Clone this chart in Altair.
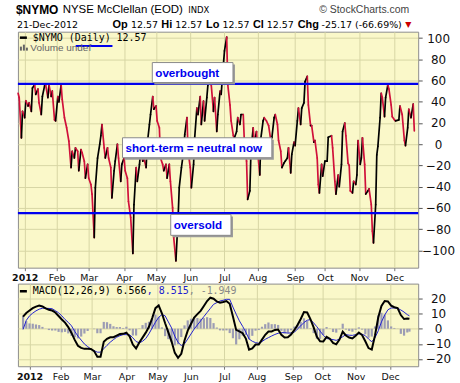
import altair as alt
import numpy as np
import pandas as pd

# ---------------- data ----------------
# day offsets from 2012-01-01 and $NYMO closes
NYMO_DAY = [-4, -3, -1, 0, 2, 3, 5, 6, 8, 9,
            11, 12, 14, 15, 17, 18, 20, 21, 23, 24,
            26, 27, 29, 30, 32, 33, 35, 36, 38, 40,
            42, 44, 45, 47, 48, 50, 51, 53, 54, 56,
            57, 59, 60, 62, 63, 65, 66, 68, 70, 71,
            72, 74, 75, 77, 78, 80, 81, 83, 84, 86,
            87, 89, 90, 92, 93, 95, 96, 98, 100, 101,
            103, 104, 106, 107, 109, 110, 112, 113, 115, 116,
            118, 119, 121, 122, 124, 125, 127, 128, 130, 131,
            133, 134, 136, 137, 139, 141, 142, 144, 146, 147,
            149, 150, 152, 153, 155, 156, 158, 159, 161, 162,
            164, 165, 167, 168, 170, 171, 173, 174, 176, 177,
            179, 180, 182, 183, 185, 186, 188, 189, 191, 192,
            194, 195, 197, 198, 200, 201, 203, 204, 206, 207,
            209, 210, 212, 213, 215, 216, 218, 219, 221, 223,
            225, 226, 228, 229, 231, 232, 234, 235, 237, 238,
            240, 241, 243, 244, 246, 247, 249, 250, 252, 253,
            255, 256, 258, 259, 261, 262, 264, 265, 267, 268,
            269, 271, 272, 274, 276, 277, 280, 281, 283, 284,
            286, 287, 289, 290, 292, 293, 295, 296, 297, 299,
            300, 302, 303, 304, 306, 307, 308, 310, 311, 313,
            314, 316, 317, 318, 320, 321, 322, 324, 325, 326,
            328, 329, 331, 332, 334, 335, 337, 338, 341, 342,
            344, 346, 347, 349, 350, 352, 354, 355]
NYMO = [48, 44, 6, 31, 25, 41, 36, 39, 31, 53,
        56, 47, 52, 39, 28, 45, 55, 56, 44, 56,
        45, 50, 23, 22, 45, 40, 56, 42, 25, 15.5,
        3, -22, -6.6, -13, -3.5, -6.6, -25, -5, -8, -16,
        -32, -19, -32, -38, -47, -88, -41, -13, 0, 8,
        18.6, -3.5, -13, -3.5, -13, -22, -50.6, -25, -16, 0,
        -13, -35, -19, -13, -25, -32, -54, -69, -103, -57,
        -22, -35, -19, -6.6, -16, -13, -22, 0, 18.6, 28,
        45, 33, 36, 22, 15.5, -13, -19, -25, -19, -32,
        -19, -35, -60, -88, -110, -69, -41, -22, -6.6, 9,
        25, -6.6, -22, -41, -19, 6, 34, 28, 45, 18.6,
        40.6, 22, 44, 56, 69, 56, 31, 44, 12, 28,
        50, 47, 75, 88, 101, 56, 37, 22, 8, 6,
        12, 25, 18.6, 28, 28, 3, -16, -52, -44, -6.6,
        15.5, 0, 12, -6.6, -29, 6, 22, 25, 22, 17.6,
        3.5, 6.6, 25, 28, 18.6, 3.5, -6.6, -22, -17.6, -16,
        -13, -3.5, -27, -9.6, 1.9, -1.3, 22, 34, 18.6, 34,
        39, 59, 64, 37, 17.6, 17.6, 1.9, 3.5, -13, -38,
        -46, -19, -30, -16, -16, 6.6, 8, -3.5, -35, -47,
        -29, -40, -19, 12, 20, 8, -18, -20, -44, -46,
        -35, -38, -29, 3.5, -19, -13, 6, -19, -47, -44,
        -42, -57, -82, -93, -57, -10, -2, 25, 48, 44,
        26, 44, 56, 52, 37, 26, 23, 22, 23, 36,
        28, 3.5, -1.3, 15.5, 33, 25, 37.74, 12.57]

MACD_DAY = list(range(-4, 354, 3)) + [355]
MACD = [8, 10.4, 12, 13.6, 14.6, 15.3, 14.7, 13.4, 12.5, 12.0,
        10.7, 8.4, 6.1, 4.0, 1.1, -2.8, -7.4, -11.3, -12.7, -13.3,
        -13.3, -13.4, -14.8, -18.5, -18.5, -8.7, -6.7, -5.7, -5.6, -4.5,
        -3.5, -3.4, -2.6, -5.1, -10.5, -13, -9.1, -5.9, -2.6, 1.3,
        7, 13.6, 15.4, 10.2, 3.6, -2.4, -8.5, -16, -19.2, -16.6,
        -7.8, -1.3, 3.1, 7.4, 9.6, 11.8, 15, 18.3, 20.5, 19.8,
        18, 17.2, 17.6, 18.3, 16.5, 8, -0.8, -1.8, -3, -6.5,
        -13.8, -13, -10.5, -10.5, -7.2, -4, -1.8, -1.8, -0.8, -0.5,
        -4, -5.8, -5.6, -3.8, -1, 2.5, 6.4, 11, 10.7, 6.3,
        0.9, -5.4, -8.3, -8.5, -5.4, -6.6, -9.4, -10.3, -7.2, -2,
        -4.5, -5.8, -6.4, -4.6, -2.5, -4.2, -8.3, -12.8, -13.8, -4.5,
        7.4, 15, 18.3, 18, 15.2, 14.2, 13.6, 9, 6.4, 6.8,
        6.566]
SIGNAL = [-0.5, 5.5, 8.5, 10.3, 11.8, 12.9, 13.5, 13.5, 13.4, 13.2,
          11.9, 10.5, 8.5, 6.1, 4.2, 1.9, -1.8, -4.9, -7.5, -10.1,
          -11.8, -13.4, -14.5, -15.5, -15.5, -13.2, -11, -8.9, -7.2, -5.6,
          -4.6, -3.9, -3.9, -4, -6.0, -8.5, -9.3, -8.3, -6.5, -3.3,
          0.5, 4.3, 7.5, 9.3, 8.5, 4.5, 0.5, -5, -9, -11.1,
          -10, -6.8, -3.5, -0.2, 2.5, 5.2, 8, 10.7, 13.4, 16.1,
          17.2, 18.3, 18.8, 19.4, 19.4, 14.3, 9.6, 5.2, 1.6, -2.3,
          -6.8, -8.3, -9.2, -9.6, -8.5, -7.0, -5.9, -4.8, -3.8, -3.0,
          -2.6, -2.6, -2.9, -2.8, -2.4, -0.2, 1.9, 4.1, 5.6, 6.0,
          3.8, 1.3, -1.6, -4.3, -6.5, -6.8, -7.2, -7.7, -6.8, -5.3,
          -3.9, -4.3, -4.4, -3.9, -3.4, -3.6, -4.6, -6.8, -8.6, -6,
          -1.4, 4.5, 9, 12.5, 13.7, 13.7, 13.5, 12.4, 11, 9.3,
          8.515]

OVERBOUGHT, OVERSOLD = 57, -65
MONTH_TICKS = ["2012-01-03", "2012-02-01", "2012-03-01", "2012-04-02",
               "2012-05-01", "2012-06-01", "2012-07-02", "2012-08-01",
               "2012-09-04", "2012-10-01", "2012-11-01", "2012-12-03"]
TOP_TICKS = [-100, -80, -60, -40, -20, 0, 20, 40, 60, 80, 100]
MACD_TICKS = [-20, -10, 0, 10, 20]

# annotation boxes (day offset / value anchors)
ANN_TEXT = ["overbought", "short-term = neutral now", "oversold"]
ANN_X1 = [117.6, 90.6, 134.3]
ANN_X2 = [190.7, 225.9, 188.9]
ANN_Y1 = [77.0, 6.1, -66.2]
ANN_Y2 = [58.2, -12.7, -85.9]
ANN_TX = [120.3, 93.3, 137.0]
ANN_TY = [67.6, -3.3, -76.1]

assert len(NYMO_DAY) == len(NYMO)
assert len(MACD_DAY) == len(MACD) == len(SIGNAL)

# ---------------- helpers ----------------
BASE = pd.Timestamp("2012-01-01")


def ms(days):
    return [float((BASE + pd.Timedelta(days=float(d))).value // 10**6) for d in days]


X_DOMAIN = ms([-4.15, 358.5])
W, H_TOP, H_MACD = 402, 237, 83
PANEL = "#faf8c9"
GRID = "#d7d6a4"
RED = "#d0103a"
BLUE = "#0000ee"

tick_ms = [float(pd.Timestamp(s).value // 10**6) for s in MONTH_TICKS]


def x_axis():
    return alt.Axis(values=tick_ms, title=None, grid=True, gridColor=GRID,
                    domain=False, tickSize=3, tickColor="#777",
                    labelFont="DejaVu Sans", labelFontSize=9.5, labelColor="#111",
                    labelPadding=2, labelFlush=False, labelOverlap=False,
                    labelExpr="utcmonth(datum.value) === 0 ? '2012' : utcFormat(datum.value, '%b')",
                    labelFontWeight={"condition": {"test": "utcmonth(datum.value) === 0",
                                                   "value": "bold"}, "value": "normal"})


xs = alt.Scale(type="utc", domain=X_DOMAIN)


def X(field):
    return alt.X(field, type="temporal", scale=xs, axis=x_axis())


def y_axis(vals):
    return alt.Axis(values=vals, title=None, orient="right", grid=True, gridColor=GRID,
                    domain=False, tickSize=4, tickColor="#555",
                    labelFont="DejaVu Sans", labelFontSize=12, labelColor="#111",
                    labelAlign="center", labelPadding=16, labelBaseline="middle",
                    labelOverlap=False, labelFlush=False, labelBound=False)


ys_top = alt.Scale(domain=[-116.4, 106.1], nice=False, zero=False)
ys_m = alt.Scale(domain=[-24.8, 29.8], nice=False, zero=False)


def YT(field):
    return alt.Y(field, type="quantitative", scale=ys_top, axis=y_axis(TOP_TICKS))


def YM(field):
    return alt.Y(field, type="quantitative", scale=ys_m, axis=y_axis(MACD_TICKS))


one = pd.DataFrame({"k": [0]})


def label(text, x, y, size, font="DejaVu Sans", weight="normal", color="black", align="left"):
    return alt.Chart(one).mark_text(text=text, font=font, fontSize=size, fontWeight=weight,
                                    color=color, align=align, baseline="middle").encode(
        x=alt.value(x), y=alt.value(y))


# ---------------- top panel ----------------
t = ms(NYMO_DAY)
seg = pd.DataFrame({"t": t[:-1], "t2": t[1:], "v": NYMO[:-1], "v2": NYMO[1:]})
seg["dir"] = np.where(seg["v2"] < seg["v"], "down", "up")

segments = alt.Chart(seg).mark_rule(strokeWidth=1.7, strokeCap="round").encode(
    x=X("t"), x2="t2:T", y=YT("v"), y2="v2:Q",
    color=alt.Color("dir:N", scale=alt.Scale(domain=["down", "up"], range=[RED, "black"]),
                    legend=None))

levels = alt.Chart(pd.DataFrame({"lvl": [OVERBOUGHT, OVERSOLD]})).mark_rule(
    color=BLUE, strokeWidth=2.3).encode(y=YT("lvl"))

ann = pd.DataFrame({"txt": ANN_TEXT,
                    "x1": ms(ANN_X1), "x2": ms(ANN_X2),
                    "sx1": ms([a + 1.8 for a in ANN_X1]), "sx2": ms([a + 1.8 for a in ANN_X2]),
                    "y1": ANN_Y1, "y2": ANN_Y2,
                    "sy1": [a - 1.9 for a in ANN_Y1], "sy2": [a - 1.9 for a in ANN_Y2],
                    "tx": ms(ANN_TX), "ty": ANN_TY})

shadow = alt.Chart(ann).mark_rect(color="#9a9a9a").encode(
    x=X("sx1"), x2="sx2:T", y=YT("sy1"), y2="sy2:Q")
boxes = alt.Chart(ann).mark_rect(fill="white", stroke="#8a8a8a", strokeWidth=1).encode(
    x=X("x1"), x2="x2:T", y=YT("y1"), y2="y2:Q")
box_text = alt.Chart(ann).mark_text(font="Liberation Sans", fontSize=11.7, fontWeight="bold",
                                    color=BLUE, align="left", baseline="middle").encode(
    x=X("tx"), y=YT("ty"), text="txt:N")

underline = alt.Chart(pd.DataFrame({"a": ms([48.2]), "b": ms([81.5]), "y": [92.7]})).mark_rule(
    color=BLUE, strokeWidth=2).encode(x=X("a"), x2="b:T", y=YT("y"))

legend_top = [
    alt.Chart(one).mark_rule(color="black", strokeWidth=2.5).encode(
        x=alt.value(2), x2=alt.value(9), y=alt.value(6)),
    label("$NYMO (Daily) 12.57", 15, 6, 10, font="DejaVu Sans Mono"),
    alt.Chart(one).mark_rect(color="#666").encode(x=alt.value(2), x2=alt.value(4), y=alt.value(15), y2=alt.value(19)),
    alt.Chart(one).mark_rect(color="#666").encode(x=alt.value(5), x2=alt.value(7), y=alt.value(13), y2=alt.value(19)),
    alt.Chart(one).mark_rect(color="#666").encode(x=alt.value(8), x2=alt.value(10), y=alt.value(16), y2=alt.value(19)),
    label("Volume undef", 12.5, 16, 10, font="Liberation Sans", color="#666"),
]

BOLD = dict(font="Liberation Sans", weight="bold")
L1, L2 = -21.5, -7
header = [
    label("$NYMO", -2, L1, 12, **BOLD),
    label("NYSE McClellan (EOD)", 45, L1, 11.5, font="Liberation Sans"),
    label("INDX", 171, L1, 8.5),
    label("\u00a9 StockCharts.com", 393, L1, 10.5, font="Liberation Sans", color="#444", align="right"),
    label("21-Dec-2012", -1, L2, 9.5),
    label("Op", 95, L2, 11, **BOLD),
    label("12.57", 113.5, L2, 9.5),
    label("Hi", 144, L2, 11, **BOLD),
    label("12.57", 158, L2, 9.5),
    label("Lo", 189, L2, 11, **BOLD),
    label("12.57", 205.5, L2, 9.5),
    label("Cl", 236, L2, 11, **BOLD),
    label("12.57", 250, L2, 9.5),
    label("Chg", 281, L2, 11, **BOLD),
    label("-25.17 (-66.69%)", 305, L2, 9.5),
    label("\u25bc", 389, L2, 8, color="#cc0000"),
]

bound_top = alt.Chart(one).mark_rect(opacity=0).encode(
    x=alt.value(-17), x2=alt.value(443), y=alt.value(-30), y2=alt.value(-29))

top = alt.layer(segments, levels, shadow, boxes, box_text, underline,
                *legend_top, *header, bound_top).properties(width=W, height=H_TOP)

# ---------------- MACD panel ----------------
mdf = pd.DataFrame({"t": ms(MACD_DAY), "macd": MACD, "signal": SIGNAL})
mdf["hist"] = mdf["macd"] - mdf["signal"]

hist = alt.Chart(mdf).mark_bar(size=2.2, color="#9c9cb4").encode(x=X("t"), y=YM("hist"))
sig_line = alt.Chart(mdf).mark_line(color="#2020d0", strokeWidth=1).encode(x=X("t"), y=YM("signal"))
macd_line = alt.Chart(mdf).mark_line(color="black", strokeWidth=2).encode(x=X("t"), y=YM("macd"))

legend_m = [
    alt.Chart(one).mark_rule(color="black", strokeWidth=2.5).encode(
        x=alt.value(2), x2=alt.value(9), y=alt.value(7.7)),
    label("MACD(12,26,9) 6.566", 15, 7.7, 10, font="DejaVu Sans Mono"),
    label(", 8.515", 129.4, 7.7, 10, font="DejaVu Sans Mono", color="#2020d0"),
    label(", -1.949", 171.5, 7.7, 10, font="DejaVu Sans Mono", color="#888"),
]

bound_m = alt.Chart(one).mark_rect(opacity=0).encode(
    x=alt.value(-17), x2=alt.value(443), y=alt.value(99), y2=alt.value(100))

macd = alt.layer(hist, sig_line, macd_line, *legend_m, bound_m).properties(width=W, height=H_MACD)

chart = alt.vconcat(top, macd, spacing=16, bounds="flush").properties(
    padding={"left": 0, "top": 0, "right": 0, "bottom": 0}, background="white"
).configure_view(fill=PANEL, stroke="#8c8c8c", strokeWidth=1)

chart.save("out.html", embed_options={"renderer": "svg", "actions": False})
